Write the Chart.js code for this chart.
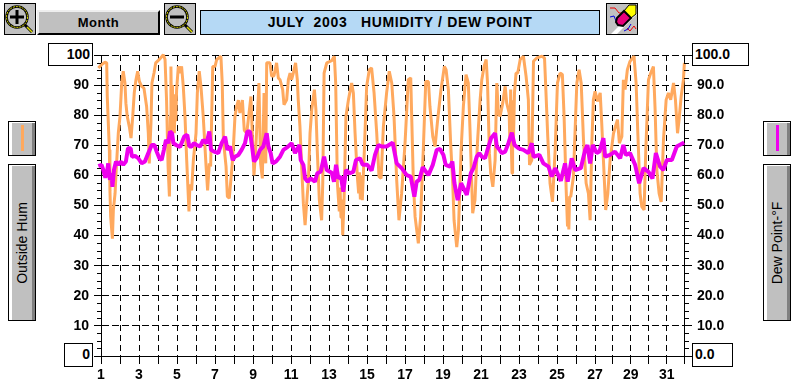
<!DOCTYPE html>
<html>
<head>
<meta charset="utf-8">
<title>July 2003 Humidity / Dew Point</title>
<script src="https://cdn.jsdelivr.net/npm/chart.js@4"></script>
<style>
  body { margin: 0; background: #fff; font-family: "Liberation Sans", Arial, sans-serif; }
  #wrap { position: relative; width: 799px; height: 386px; overflow: hidden; }
  #chart { position: absolute; left: 0; top: 0; }
  .abs { position: absolute; box-sizing: border-box; }
  .icon { border: 1px solid #000; background: #c0c0c0; width: 32px; height: 32px; top: 3px; }
  .icon svg { display: block; }
  #month { left: 37px; top: 10px; width: 123px; height: 25px; background: #c0c0c0; border: 2px solid; border-color: #eee #000 #000 #eee;
    text-align: center; font-weight: bold; font-size: 13px; line-height: 21px; letter-spacing: .5px; }
  #title { left: 200px; top: 10px; width: 400px; height: 25px; background: #b5d9f5; border: 1px solid #000;
    text-align: center; font-weight: bold; font-size: 14px; line-height: 23px; white-space: pre; letter-spacing: .65px; }
  .side { width: 28px; background: #c0c0c0; border: 1px solid #000; box-shadow: inset 3px 1px 0 #fff, inset -3px 0 0 #808080; }
  .sideText { top: 164px; height: 157px; }
  .sideText span { position: absolute; left: 50%; top: 50%; transform: translate(-50%, -50%) rotate(-90deg); white-space: nowrap; font-size: 14px; }
  .swatch { top: 125px; height: 26px; width: 3px; }
  .vbox { border: 1px solid #000; background: #fff; font-weight: bold; font-size: 14px; line-height: 20px; }
</style>
</head>
<body>
<div id="wrap">
  <div class="abs vbox" style="left:48px;top:43px;width:45px;height:23px;text-align:right;padding-right:2px">100</div>
  <div class="abs vbox" style="left:64px;top:343px;width:29px;height:24px;text-align:right;padding-right:2px">0</div>
  <div class="abs vbox" style="left:692px;top:43px;width:57px;height:23px;padding-left:2px">100.0</div>
  <div class="abs vbox" style="left:692px;top:343px;width:41px;height:24px;padding-left:2px">0.0</div>
  <canvas id="chart" width="799" height="386"></canvas>

  <div class="abs icon" style="left:4px">
    <svg width="30" height="30" viewBox="0 0 30 30">
      <line x1="20" y1="21" x2="27" y2="28" stroke="#000" stroke-width="3"/>
      <line x1="22" y1="23" x2="27" y2="28" stroke="#dd0" stroke-width="1.5"/>
      <circle cx="12" cy="13" r="10.5" fill="#c0c0c0" stroke="#000" stroke-width="2.5"/>
      <circle cx="12" cy="13" r="10.5" fill="none" stroke="#e8e800" stroke-width="1" stroke-dasharray="2 1"/>
      <rect x="5" y="11.5" width="14" height="3" fill="#000"/>
      <rect x="10.5" y="6" width="3" height="14" fill="#000"/>
    </svg>
  </div>
  <div class="abs" id="month">Month</div>
  <div class="abs icon" style="left:164px">
    <svg width="30" height="30" viewBox="0 0 30 30">
      <line x1="20" y1="21" x2="27" y2="28" stroke="#000" stroke-width="3"/>
      <line x1="22" y1="23" x2="27" y2="28" stroke="#dd0" stroke-width="1.5"/>
      <circle cx="12" cy="13" r="10.5" fill="#c0c0c0" stroke="#000" stroke-width="2.5"/>
      <circle cx="12" cy="13" r="10.5" fill="none" stroke="#e8e800" stroke-width="1" stroke-dasharray="2 1"/>
      <rect x="5" y="11.5" width="14" height="3" fill="#000"/>
    </svg>
  </div>
  <div class="abs" id="title">JULY  2003   HUMIDITY / DEW POINT</div>
  <div class="abs icon" style="left:606px;background:#fff">
    <svg width="30" height="30" viewBox="0 0 30 30">
      <polygon points="0,0 30,0 30,4 4,30 0,30" fill="#c0c0c0"/>
      <polygon points="30,10 30,30 10,30" fill="#c0c0c0"/>
      <polyline points="3,4 8,4 12,9 16,9" fill="none" stroke="#e00" stroke-width="1"/>
      <polyline points="3,13 7,12 9,17 12,18" fill="none" stroke="#00d" stroke-width="1"/>
      <polyline points="20,24 23,27 27,22 29,25" fill="none" stroke="#e00" stroke-width="1"/>
      <polyline points="17,27 21,25 24,20" fill="none" stroke="#00d" stroke-width="1"/>
      <polygon points="22,1 29,1 29,10 24,14 17,7" fill="#ff0" stroke="#000" stroke-width="1"/>
      <polygon points="10,14 17,7 24,14 16,22 11,21 9,18" fill="#e8007a" stroke="#000" stroke-width="2"/>
    </svg>
  </div>

  <div class="abs side" style="left:8px;top:121px;height:35px"></div>
  <div class="abs swatch" style="left:21px;background:#ffa95e"></div>
  <div class="abs side sideText" style="left:8px"><span>Outside Hum</span></div>
  <div class="abs side" style="left:763px;top:121px;height:35px"></div>
  <div class="abs swatch" style="left:776px;background:#ee00ee"></div>
  <div class="abs side sideText" style="left:763px"><span>Dew Point-°F</span></div>
</div>

<script>
// x positions are in "day slots" of the axis, the last few days are drawn a bit narrower
const dayTicks = [1,2,3,4,5,6,7,8,9,10,11,12,13,14,15,16,17,18,19,20,21,22,23,24,25,26,27,27.9,28.88,29.8,30.77,31.68];
const dayLabels = ['1','','3','','5','','7','','9','','11','','13','','15','','17','','19','','21','','23','','25','','27','','29','','31',''];
const valueTicks = [10,20,30,40,50,60,70,80,90];
const minorTicks = [2.5,5,7.5,12.5,15,17.5,22.5,25,27.5,32.5,35,37.5,42.5,45,47.5,52.5,55,57.5,62.5,65,67.5,72.5,75,77.5,82.5,85,87.5,92.5,95,97.5];

const humDays = [0.86,1.03,1.21,1.30,1.33,1.44,1.47,1.51,1.60,1.65,1.74,1.79,1.91,2.00,2.09,2.17,2.26,2.31,2.38,2.49,2.58,2.67,2.75,2.84,2.93,3.02,3.14,3.26,3.40,3.49,3.54,3.63,3.68,3.79,3.88,4.10,4.28,4.37,4.45,4.53,4.60,4.65,4.68,4.72,4.76,4.79,4.83,4.86,4.90,4.93,4.98,5.07,5.16,5.24,5.33,5.42,5.51,5.63,5.68,5.77,5.86,6.00,6.07,6.17,6.26,6.38,6.53,6.61,6.70,6.77,6.88,7.00,7.09,7.31,7.38,7.44,7.58,7.65,7.75,7.88,7.96,8.05,8.14,8.23,8.31,8.44,8.54,8.67,8.79,8.89,8.96,9.05,9.14,9.23,9.31,9.40,9.49,9.58,9.67,9.72,9.89,9.98,10.10,10.24,10.33,
  10.42,10.56,10.63,10.77,10.86,10.95,11.03,11.12,11.24,11.33,11.38,11.47,11.56,11.65,11.74,11.86,11.91,12.00,12.09,12.23,12.31,12.38,12.49,12.61,12.67,12.74,12.88,13.14,13.28,13.35,13.44,13.54,13.58,13.63,13.68,13.72,13.79,13.89,14.02,14.19,14.28,14.37,14.49,14.56,14.60,14.65,14.70,14.75,14.86,14.98,15.12,15.24,15.37,15.51,15.63,15.74,15.86,16.03,16.17,16.30,16.42,16.56,16.68,16.82,17.00,17.17,17.30,17.35,17.44,17.53,17.70,17.82,17.96,18.09,18.23,18.31,18.46,18.58,18.70,18.89,19.07,19.16,19.28,19.40,19.51,19.58,19.72,19.81,19.95,20.07,20.21,20.33,20.42,20.56,20.68,20.81,
  20.95,21.04,21.16,21.27,21.34,21.44,21.51,21.62,21.74,21.83,21.91,22.00,22.14,22.27,22.35,22.48,22.52,22.56,22.60,22.63,22.66,22.70,22.76,22.84,22.93,23.06,23.23,23.37,23.49,23.55,23.67,23.76,23.93,24.20,24.34,24.41,24.51,24.63,24.76,24.90,25.02,25.16,25.28,25.37,25.48,25.55,25.58,25.62,25.66,25.72,25.86,26.04,26.16,26.27,26.39,26.53,26.65,26.74,26.83,26.91,27.00,27.13,27.27,27.35,27.48,27.56,27.67,27.79,27.97,28.18,28.28,28.41,28.49,28.58,28.70,28.84,29.05,29.16,29.25,29.37,29.46,29.58,29.67,29.81,29.93,30.07,30.16,30.25,30.37,30.48,30.60,30.74,30.86,30.98,31.13,31.23,31.34,31.42,31.53,31.65,31.70];
const humValues = [95.7,96.8,97.6,97.4,86.2,68.5,55.1,46.2,39,48.5,54,60.7,74,79.6,90.7,94.6,90.7,84,79.6,76.2,72.4,79.6,87.4,91.8,94.6,91.2,89.6,89,82.9,74,64,77.4,90.7,94,97.4,98.7,100.1,98.5,85,63,53,79.6,96.2,76,90,75,87,74,86,78,88.5,96.2,94,96.2,89.6,79.6,65,48,57,55,65,74,87.4,94.6,89.6,79.6,63,55,64,63,96.2,96.2,98.5,99.6,90.7,71.8,63,53,52.4,61.8,68.5,79.6,83,85,80.7,85,75,74,80.7,86.2,74,60,68.5,79.6,90.7,64,59,87.4,64,97.4,97.4,93,93,97.4,92.4,
  91.8,88.5,83.5,85.1,91.8,94,91.8,94,97.4,91.8,85.1,76.2,62.9,50.7,43.5,54,57.4,74,81.8,88.5,81.8,68.5,51.8,45.1,57.4,94,97.4,98.1,99.6,90.7,57.4,48,56,46,52,40.1,51.8,79.6,85.1,90.7,87.4,74,59.6,54,61,52,60,51.8,68.5,89.6,95.1,95.7,87.4,74,59.6,59,76.2,87.4,94.6,90.7,79.6,58.5,45.1,54,70.7,91.8,92.4,79.6,57.4,46.2,37.4,46.2,68.5,91.2,91.2,82.9,72.9,69.6,77.4,88.5,96.2,95.1,88.5,70.7,57.4,45.1,36.2,41.8,68.5,82.9,93.5,90.7,75,47.4,51.8,70.7,
  85.1,91.8,96.2,98.5,90.7,67.4,60.7,56.2,65.1,90.7,80.7,79.6,84,89.6,84,80.7,70,88.5,68,60.7,85,70,87.4,94,94,98.5,99.6,92.9,85.1,63.5,65.1,97.9,99,99.6,99,88.5,72.9,57.4,51.2,68.5,90.7,94,93.5,79.6,55.1,43,52,42,53,52.9,59.6,90.7,95.1,90.7,71.8,57.4,54,45.1,70.7,85.1,87.9,84.6,87.4,77.4,59.6,48.5,54,65.1,74,78.5,70.7,72.9,91.8,88.5,95.1,97.9,99.6,90.7,74,54,49.6,48.5,68.5,91.8,94,96.2,81.8,61.8,54,51.2,71.8,85.1,87.4,85.1,90.7,85.1,74,78.5,86.2,91.8,97.4];

const dewDays = [0.86,1.03,1.12,1.23,1.33,1.38,1.47,1.56,1.60,1.68,1.79,1.91,2.03,2.17,2.31,2.42,2.56,2.63,2.79,2.96,3.14,3.31,3.49,3.67,3.81,3.93,4.07,4.19,4.31,4.42,4.54,4.63,4.74,4.81,4.95,5.16,5.38,5.54,5.65,5.77,5.89,6.03,6.21,6.38,6.56,6.70,6.79,6.95,7.17,7.35,7.53,7.65,7.79,7.93,8.05,8.23,8.40,8.58,8.70,8.84,8.95,9.05,9.19,9.37,9.54,9.72,9.81,9.93,10.03,10.21,10.42,10.60,10.81,
  11.03,11.21,11.44,11.51,11.65,11.74,11.88,12.03,12.26,12.38,12.56,12.74,12.88,13.14,13.26,13.37,13.49,13.63,13.75,13.89,14.07,14.28,14.42,14.63,14.77,15.02,15.24,15.42,15.60,15.77,16.03,16.35,16.56,16.82,17.09,17.30,17.49,17.61,17.75,17.93,18.23,18.46,18.67,18.84,19.02,19.14,19.37,19.49,19.60,19.77,19.95,20.25,20.46,20.60,20.77,20.91,
  21.04,21.21,21.39,21.53,21.74,21.83,21.97,22.09,22.27,22.44,22.62,22.76,22.97,23.23,23.49,23.67,23.76,24.07,24.28,24.55,24.72,24.90,25.20,25.42,25.56,25.77,25.95,26.25,26.48,26.60,26.74,26.88,27.09,27.23,27.44,27.53,27.79,28.05,28.32,28.49,28.62,28.84,29.11,29.32,29.55,29.81,30.02,30.20,30.42,30.60,30.77,31.04,31.30,31.69];
const dewValues = [63.1,63.5,61.8,59.2,61.8,64,58.5,60.7,56.2,61.8,64.6,63.5,64.6,63.5,64.6,69,69,66.2,66.5,65.7,64,64.6,67.4,70.1,70.1,67.9,65.7,65.1,68.5,71.8,70.7,74.6,74,70.7,70.1,69.4,72.9,73.5,69.6,69.6,70.7,70.1,69.6,71.8,70.7,74.6,68.5,67.9,67.4,70.7,72.9,68.5,69.6,65.1,66.2,66.8,68.5,70.7,74.6,74.6,69.6,64.6,65.7,68.5,69.6,74,69.6,67.4,64,64.6,66.2,68.5,69.4,
  70.7,67.4,70.1,65.1,63.5,59,57.9,59,57.9,60.7,61.2,66.2,61.8,60.9,57.9,63.5,59,59.6,54.6,61.8,60.7,61.2,65.1,65.7,63.5,63.5,61.6,66.8,70.1,69.6,69.6,70.9,64,62.4,60.1,59.6,52.9,57.9,58.5,62.7,60.1,63.5,68.5,68.8,66.8,63.5,62.9,64.6,57.4,51.8,57.4,53.5,60.7,62.4,66.2,67.4,
  66.2,65.7,69.6,72.4,74,69.6,68.5,67.4,67.9,70.7,74.2,70.1,69,68.5,67.4,70.7,66.2,66.8,64,62.9,59.6,62.4,58.2,64,57.9,65.7,61.8,62.4,68.5,70.1,64,70.1,67.4,67.9,72.4,66.2,66.8,67.9,65.7,70.1,66.8,67.4,63.5,57.4,62.4,61.2,59,67.4,62.9,61.8,65.1,65.1,69.6,70.9];

const humPoints = humDays.map((d, i) => ({ x: d, y: humValues[i] }));
const dewPoints = dewDays.map((d, i) => ({ x: d, y: dewValues[i] }));

const tickFont = { family: '"Liberation Sans", Arial, sans-serif', size: 14, weight: 'bold' };

// small in-between ticks on both value axes
const minorTickPlugin = {
  id: 'minorTicks',
  afterDraw(chart) {
    const ctx = chart.ctx;
    const area = chart.chartArea;
    ctx.save();
    ctx.strokeStyle = '#000';
    ctx.lineWidth = 1;
    ctx.beginPath();
    minorTicks.forEach(v => {
      const py = Math.round(chart.scales.y.getPixelForValue(v)) + 0.5;
      ctx.moveTo(area.left - 4, py);
      ctx.lineTo(area.left, py);
      ctx.moveTo(area.right, py);
      ctx.lineTo(area.right + 5, py);
    });
    ctx.stroke();
    ctx.restore();
  }
};

new Chart(document.getElementById('chart'), {
  type: 'line',
  data: {
    datasets: [
      { label: 'Outside Hum', data: humPoints, yAxisID: 'y', borderColor: '#ffa95e', borderWidth: 3, borderJoinStyle: 'bevel', pointRadius: 0, tension: 0, clip: false, order: 2 },
      { label: 'Dew Point-°F', data: dewPoints, yAxisID: 'y2', borderColor: '#ee00ee', borderWidth: 4, borderJoinStyle: 'bevel', pointRadius: 0, tension: 0, clip: false, order: 1 }
    ]
  },
  options: {
    responsive: false,
    animation: false,
    layout: { padding: { top: 55, left: 0, right: 0, bottom: 0 } },
    plugins: { legend: { display: false }, tooltip: { enabled: false } },
    scales: {
      x: {
        type: 'linear',
        min: 1,
        max: 31.68,
        afterBuildTicks: axis => { axis.ticks = dayTicks.map(v => ({ value: v })); },
        afterFit: axis => { axis.height = 30; },
        ticks: {
          autoSkip: false, maxRotation: 0, minRotation: 0, color: '#000', font: tickFont, padding: 3,
          callback: (value, index) => dayLabels[index]
        },
        grid: { color: '#000', tickColor: '#000', tickLength: 8, tickBorderDash: [] },
        border: { display: true, color: '#000', dash: [6, 4] }
      },
      y: {
        type: 'linear',
        position: 'left',
        min: 0,
        max: 100,
        afterBuildTicks: axis => { axis.ticks = [0, ...valueTicks, 100].map(v => ({ value: v })); },
        afterFit: axis => { axis.width = 101; },
        ticks: {
          color: '#000', font: tickFont, padding: 5,
          callback: v => (valueTicks.includes(v) ? String(v) : '')
        },
        grid: { color: '#000', tickColor: '#000', tickLength: 7, tickBorderDash: [] },
        border: { display: true, color: '#000', dash: [7, 3] }
      },
      y2: {
        type: 'linear',
        position: 'right',
        min: 0,
        max: 100,
        afterBuildTicks: axis => { axis.ticks = [0, ...valueTicks, 100].map(v => ({ value: v })); },
        afterFit: axis => { axis.width = 115; },
        ticks: {
          color: '#000', font: tickFont, padding: 5,
          callback: v => (valueTicks.includes(v) ? v.toFixed(1) : '')
        },
        grid: { drawOnChartArea: false, tickColor: '#000', tickLength: 8 },
        border: { display: true, color: '#000' }
      }
    }
  },
  plugins: [minorTickPlugin]
});
</script>
</body>
</html>
